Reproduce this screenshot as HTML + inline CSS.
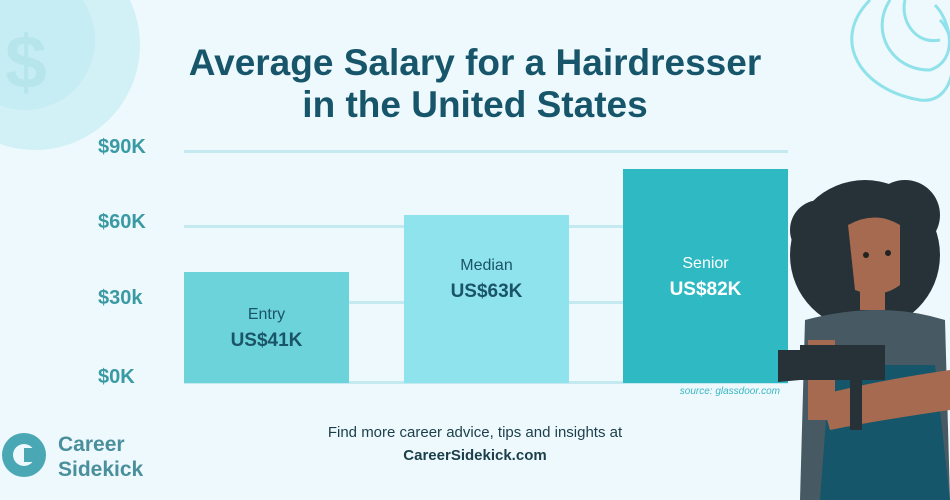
<!DOCTYPE html>
<html><head><style>
body{margin:0;width:950px;height:500px;overflow:hidden;background:#eef9fd;font-family:"Liberation Sans",sans-serif;position:relative}
.t{position:absolute;left:0;width:950px;text-align:center;color:#17566a;font-weight:bold;font-size:37px;line-height:42px}
.y{position:absolute;left:98px;width:70px;text-align:left;color:#3a9aa4;font-weight:bold;font-size:20px}
.g{position:absolute;left:184px;width:604px;height:3px;background:#c5e9f1}
.bar{position:absolute;text-align:center;color:#1a5468}
.bar .a{font-size:16px}.bar .b{font-size:19px;font-weight:bold;margin-top:6px}
</style></head><body>
<svg style="position:absolute;left:0;top:0" width="950" height="500">
<circle cx="35" cy="45" r="105" fill="#d2f1f6"/>
<circle cx="25" cy="40" r="70" fill="#c6edf3"/>
<text x="5" y="88" font-size="75" fill="#b7e5ec" font-family="Liberation Sans" font-weight="bold">$</text>
<g fill="none" stroke="#8fe1ea" stroke-width="3">
<path d="M870 0 C830 40 860 90 920 100 C960 105 960 40 940 20"/>
<path d="M890 0 C870 30 890 70 930 70 C960 60 950 20 935 5"/>
<path d="M905 0 C900 20 915 45 940 40"/>
</g>
<circle cx="24" cy="455" r="22" fill="#4aa8b5"/>
<circle cx="24" cy="455" r="11" fill="#eef9fd"/>
<rect x="24" y="448" width="14" height="14" fill="#4aa8b5"/>
</svg>
<div class="t" style="top:42px">Average Salary for a Hairdresser</div>
<div class="t" style="top:84px">in the United States</div>
<div class="g" style="top:150px"></div><div class="g" style="top:225px"></div><div class="g" style="top:301px"></div><div class="g" style="top:381px"></div>
<div class="y" style="top:136px">$90K</div><div class="y" style="top:211px">$60K</div><div class="y" style="top:287px">$30k</div><div class="y" style="top:366px">$0K</div>
<div class="bar" style="left:184px;top:272px;width:165px;height:111px;background:#6dd3db"><div class="a" style="margin-top:34px">Entry</div><div class="b">US$41K</div></div>
<div class="bar" style="left:404px;top:215px;width:165px;height:168px;background:#8fe3ec"><div class="a" style="margin-top:42px">Median</div><div class="b">US$63K</div></div>
<div class="bar" style="left:623px;top:169px;width:165px;height:214px;background:#2fb9c3;color:#fff"><div class="a" style="margin-top:86px">Senior</div><div class="b" style="color:#fff">US$82K</div></div>
<div style="position:absolute;left:640px;top:386px;width:140px;text-align:right;font-size:10px;font-style:italic;color:#3ab6c2">source: glassdoor.com</div>
<svg style="position:absolute;left:0;top:0" width="950" height="500">
<circle cx="865" cy="255" r="75" fill="#263238"/>
<circle cx="820" cy="230" r="30" fill="#263238"/>
<circle cx="905" cy="215" r="35" fill="#263238"/>
<path d="M848 225 Q875 210 900 225 L900 285 Q880 300 855 290 Z" fill="#a56a4f"/>
<rect x="860" y="280" width="25" height="30" fill="#a56a4f"/>
<path d="M805 320 Q880 300 945 320 L950 500 L800 500 Z" fill="#475a63"/>
<path d="M830 365 L935 365 L950 500 L820 500 Z" fill="#16566a"/>
<path d="M808 340 L835 340 L835 420 L808 420Z" fill="#a56a4f"/>
<path d="M820 395 Q880 380 950 370 L950 410 Q880 420 830 430Z" fill="#a56a4f"/>
<path d="M800 345 L885 345 L885 380 L800 380Z" fill="#263238"/>
<path d="M778 350 L800 350 L800 380 L778 382Z" fill="#263238"/>
<rect x="850" y="375" width="12" height="55" fill="#263238"/>
<circle cx="866" cy="255" r="3" fill="#222"/><circle cx="888" cy="253" r="3" fill="#222"/>
</svg>
<div style="position:absolute;left:0;width:950px;top:424px;text-align:center;font-size:15px;color:#1a3f4a">Find more career advice, tips and insights at</div>
<div style="position:absolute;left:0;width:950px;top:447px;text-align:center;font-size:15px;font-weight:bold;color:#1a3f4a">CareerSidekick.com</div>
<div style="position:absolute;left:58px;top:432px;font-size:21px;font-weight:bold;color:#4a8f9c;line-height:25px">Career<br>Sidekick</div>
</body></html>
